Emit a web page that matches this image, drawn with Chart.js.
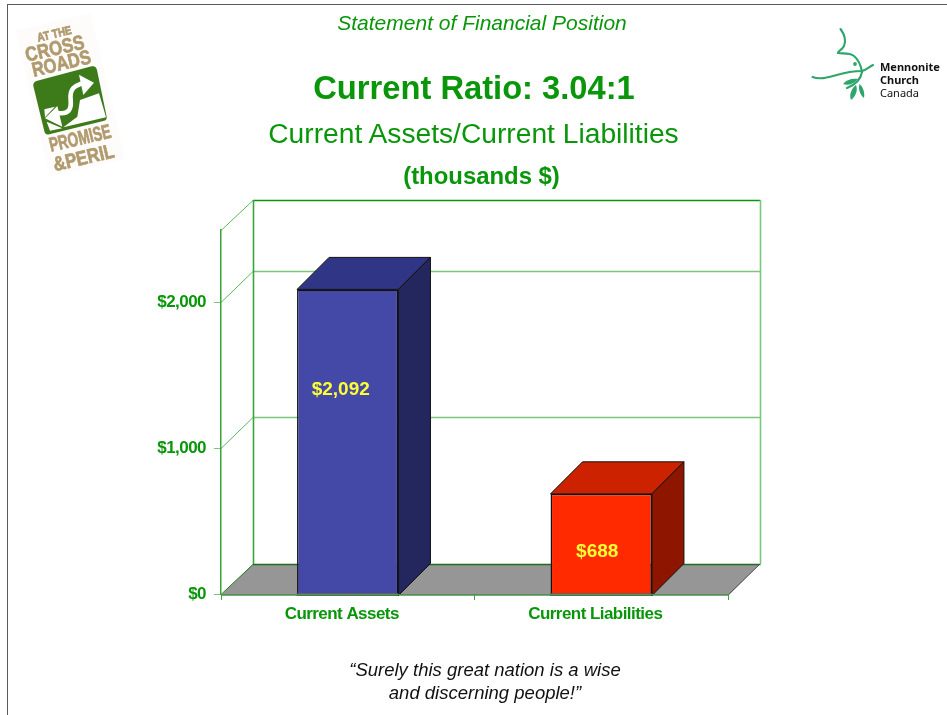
<!DOCTYPE html>
<html>
<head>
<meta charset="utf-8">
<style>
html,body{margin:0;padding:0;background:#fff;width:947px;height:715px;overflow:hidden}
#frame{position:absolute;left:7px;top:4px;width:980px;height:780px;border:1.5px solid #5a5a5a;box-sizing:border-box}
#wrap{position:absolute;left:0;top:0;width:947px;height:715px}
canvas{display:block}
.t{position:absolute;left:0;text-align:center;white-space:nowrap;font-family:"Liberation Sans",Arial,sans-serif;color:#0A960A}
svg{position:absolute;left:0;top:0}
</style>
<script src="https://cdn.jsdelivr.net/npm/chart.js@4"></script>
</head>
<body>
<div id="frame"></div>
<div id="wrap"><canvas id="c" width="947" height="715"></canvas></div>

<div class="t" style="width:964px;top:11px;font-size:21px;font-style:italic">Statement of Financial Position</div>
<div class="t" style="width:948px;top:69px;font-size:32.7px;font-weight:bold">Current Ratio: 3.04:1</div>
<div class="t" style="width:947px;top:117px;font-size:28.2px">Current Assets/Current Liabilities</div>
<div class="t" style="width:963px;top:162px;font-size:23.9px;font-weight:bold">(thousands $)</div>
<div class="t" style="width:970px;top:659px;font-size:18.5px;font-style:italic;color:#111;line-height:22.5px;white-space:pre">“Surely this great nation is a wise
and discerning people!”</div>

<svg width="947" height="715" viewBox="0 0 947 715">
  <g transform="translate(70 100) rotate(-13.3)">
    <rect x="-37" y="-80" width="77" height="150" fill="#fdfcfa"/>
    <g font-family="Liberation Sans,sans-serif" font-weight="bold" fill="#B09A6E" stroke="#B09A6E" stroke-width="0.7" text-anchor="middle">
      <text x="0" y="-64" font-size="12" textLength="35" lengthAdjust="spacingAndGlyphs">AT THE</text>
      <text x="-3" y="-47" font-size="20" textLength="60" lengthAdjust="spacingAndGlyphs">CROSS</text>
      <text x="0" y="-31" font-size="20" textLength="60" lengthAdjust="spacingAndGlyphs">ROADS</text>
      <text x="1" y="46" font-size="20" textLength="63" lengthAdjust="spacingAndGlyphs">PROMISE</text>
      <text x="0" y="66" font-size="20" textLength="62" lengthAdjust="spacingAndGlyphs">&amp;PERIL</text>
    </g>
  </g>
  <g transform="scale(0.33333)">
    <path d="M 112 242 L 275 199 Q 288 196 291 210 L 320 350 Q 322 360 310 363 L 148 403 Q 136 406 133 394 L 100 258 Q 98 246 112 242 Z" fill="#3C7A1A"/>
    <path d="M 190 382 L 232 350 L 240 300 L 297 280 L 318 352 Z" fill="#fff"/>
    <path d="M 170 338 C 205 345 215 330 212 300 C 208 265 225 258 245 250" fill="none" stroke="#3C7A1A" stroke-width="34"/>
    <path d="M 170 338 C 205 345 215 330 212 300 C 208 265 225 258 245 250" fill="none" stroke="#fff" stroke-width="14"/>
    <path d="M 237 224 L 282 248 L 250 285 Z" fill="#fff"/>
    <path d="M 135 355 L 172 318 L 187 380 Z" fill="#fff"/>
    <path d="M 133 328 L 165 320 L 135 352 Z" fill="#fff"/>
    <path d="M 140 365 L 187 385 L 150 392 Z" fill="#fff"/>
  </g>
  <g fill="none" stroke="#2DA56B" stroke-width="2.1" stroke-linecap="round">
    <path d="M840.5 29 C845 35 846 41 844 46 C842 50 838 51 838 53 C842 54 849 52 854 56 C859 60 861 66 862 72"/>
    <path d="M812.5 77 C826 82 838 71 862 71 C866 70 869 67 873 65"/>
    <path d="M862 72 C861 78 857 84 847 88"/>
  </g>
  <g fill="#2DA56B">
    <circle cx="855" cy="64" r="1.9"/>
    <path d="M843 84 C846 80 852 78 858 79 C854 84 848 86 843 84 Z"/>
    <path d="M859.5 84 C863 87 865 92 864 98 C860 95 858 89 859.5 84 Z"/>
    <path d="M856 85 C858 90 856 96 851 100 C849 95 851 89 856 85 Z"/>
  </g>
  <g font-family="Noto Sans,sans-serif" font-size="11" fill="#111">
    <text x="880" y="70.5" font-weight="bold">Mennonite</text>
    <text x="880" y="84" font-weight="bold">Church</text>
    <text x="880" y="97">Canada</text>
  </g>
</svg>

<script>
const categories = ["Current Assets", "Current Liabilities"];
const amounts = [2092, 688];
const valueLabels = ["$2,092", "$688"];
const yTicks = [0, 1000, 2000];
const yMax = 2500;

const frontColors = ["#4449A8", "#FF2A00"];
const topColors = ["#303585", "#CC2200"];
const sideColors = ["#24265E", "#8E1500"];

const GREEN = "#0A960A";
const AXIS = "#3BA33B";
const GRID = "#7CC67C";

const threeD = {
  id: "threeD",
  beforeDraw(chart) {
    chart.ctx.letterSpacing = "-0.55px";
  },
  beforeDatasetsDraw(chart) {
    const {ctx, chartArea: a, scales: {y}} = chart;
    const dx = 32, dy = 30;
    const y0 = y.getPixelForValue(0);
    ctx.save();
    // floor
    ctx.fillStyle = "#969696";
    ctx.beginPath();
    ctx.moveTo(a.left, y0 + 1);
    ctx.lineTo(a.left + dx, y0 - dy);
    ctx.lineTo(a.right + dx, y0 - dy);
    ctx.lineTo(a.right, y0 + 2);
    ctx.lineTo(a.left, y0 + 2);
    ctx.closePath();
    ctx.fill();
    // wall gridlines
    yTicks.concat([yMax]).forEach(v => {
      const inner = v !== 0 && v !== yMax;
      const p = Math.floor(y.getPixelForValue(v)) + 0.5;
      const d = inner ? dy + 1 : dy;
      ctx.strokeStyle = v === 0 ? "#1F6B1F" : (v === yMax ? GREEN : GRID);
      ctx.lineWidth = inner ? 1.6 : 1.4;
      ctx.beginPath();
      ctx.moveTo(a.left + dx, p - d);
      ctx.lineTo(a.right + dx + 0.5, p - d);
      ctx.stroke();
      ctx.strokeStyle = v === 0 ? "#1F7A1F" : "#5DB55D";
      ctx.lineWidth = 1;
      ctx.beginPath();
      ctx.moveTo(a.left, p);
      ctx.lineTo(a.left + dx, p - d);
      ctx.stroke();
    });
    // back wall verticals
    ctx.lineWidth = 1.6;
    ctx.strokeStyle = AXIS;
    ctx.beginPath();
    ctx.moveTo(a.left + dx + 0.5, y.getPixelForValue(yMax) - dy);
    ctx.lineTo(a.left + dx + 0.5, y0 - dy);
    ctx.stroke();
    ctx.strokeStyle = GRID;
    ctx.beginPath();
    ctx.moveTo(a.right + dx + 0.5, y.getPixelForValue(yMax) - dy);
    ctx.lineTo(a.right + dx + 0.5, y0 - dy);
    ctx.stroke();
    // floor right edge
    ctx.lineWidth = 1;
    ctx.strokeStyle = "#555";
    ctx.beginPath();
    ctx.moveTo(a.right, y0 + 1);
    ctx.lineTo(a.right + dx, y0 - dy);
    ctx.stroke();
    // bar depth faces
    const bdx = 32, bdy = 32;
    chart.getDatasetMeta(0).data.forEach((b, i) => {
      const L = b.x - b.width / 2, R = b.x + b.width / 2, T = b.y, B = b.base + 2;
      ctx.strokeStyle = "#111";
      ctx.lineWidth = 1;
      ctx.fillStyle = topColors[i];
      ctx.beginPath();
      ctx.moveTo(L, T); ctx.lineTo(L + bdx, T - bdy); ctx.lineTo(R + bdx, T - bdy); ctx.lineTo(R, T);
      ctx.closePath(); ctx.fill(); ctx.stroke();
      ctx.fillStyle = sideColors[i];
      ctx.beginPath();
      ctx.moveTo(R, T); ctx.lineTo(R + bdx, T - bdy); ctx.lineTo(R + bdx, B - bdy); ctx.lineTo(R, B);
      ctx.closePath(); ctx.fill(); ctx.stroke();
      ctx.fillStyle = "#333";
      ctx.fillRect(L - 0.5, b.base, R - L + 1, 2);
    });
    ctx.restore();
  },
  afterDatasetsDraw(chart) {
    const {ctx} = chart;
    const shift = [[-7, -52], [-4, 8]];
    ctx.save();
    ctx.letterSpacing = "0px";
    ctx.font = 'bold 19px "Liberation Sans", Arial, sans-serif';
    ctx.fillStyle = "#FFFF33";
    ctx.textAlign = "center";
    ctx.textBaseline = "middle";
    chart.getDatasetMeta(0).data.forEach((b, i) => {
      ctx.fillText(valueLabels[i], b.x + shift[i][0], (b.y + b.base) / 2 + shift[i][1]);
    });
    ctx.restore();
  }
};

new Chart(document.getElementById("c"), {
  type: "bar",
  data: {
    labels: categories,
    datasets: [{
      data: amounts,
      backgroundColor: frontColors,
      borderColor: "#111",
      borderWidth: 1.5,
      barPercentage: 0.4,
      categoryPercentage: 1
    }]
  },
  options: {
    responsive: false,
    animation: false,
    layout: {padding: {left: 0, top: 230, right: 219, bottom: 0}},
    plugins: {legend: {display: false}, tooltip: {enabled: false}, title: {display: false}},
    scales: {
      x: {
        afterFit(s) { s.height = 121; },
        grid: {display: true, drawOnChartArea: false, drawTicks: true, tickLength: 6, color: AXIS, z: 1, offset: true},
        border: {display: true, color: AXIS, width: 1, z: 1},
        ticks: {
          color: GREEN,
          padding: 4,
          maxRotation: 0,
          labelOffset: -6,
          font: {family: '"Liberation Sans", Arial, sans-serif', size: 17, weight: "bold"}
        }
      },
      y: {
        min: 0,
        max: yMax,
        afterFit(s) { s.width = 221; },
        afterBuildTicks(s) { s.ticks = yTicks.map(v => ({value: v})); },
        grid: {display: true, drawOnChartArea: false, drawTicks: true, tickLength: 7, color: GRID, z: 1},
        border: {display: true, color: AXIS, width: 1.5, z: 1},
        ticks: {
          color: GREEN,
          padding: 8,
          font: {family: '"Liberation Sans", Arial, sans-serif', size: 17, weight: "bold"},
          callback: v => "$" + v.toLocaleString("en-US")
        }
      }
    }
  },
  plugins: [threeD]
});
</script>
</body>
</html>
